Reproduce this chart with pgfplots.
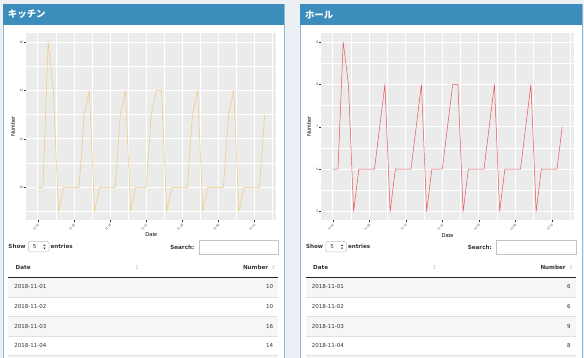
\documentclass[border=0pt]{standalone}
\usepackage{pgfplots}
\pgfplotsset{compat=1.18}
\usepackage{pgfplotstable}
\usepackage{fontspec}
\setmainfont{DejaVu Sans}
\newfontfamily\plotfont{Liberation Sans}
\newfontfamily\jpfont{Noto Sans CJK JP}
\definecolor{pagebg}{HTML}{ECF0F5}
\definecolor{boxblue}{HTML}{3C8DBC}
\definecolor{boxborder}{HTML}{8DB8D6}
\definecolor{ggpanel}{HTML}{EBEBEB}
\definecolor{ggtext}{HTML}{4D4D4D}
\definecolor{ggtick}{HTML}{333333}
\definecolor{kline}{HTML}{F4C877}
\definecolor{hline}{HTML}{E6525A}
\definecolor{txt}{HTML}{333333}
\definecolor{stripe}{HTML}{F6F6F6}
\definecolor{rowline}{HTML}{E0E0E0}
\definecolor{inputborder}{HTML}{C4C4C4}
\definecolor{sorticon}{HTML}{D2D2D2}

\pgfplotstableread{
day n
1 10
2 10
3 16
4 14
5 9
6 10
7 10
8 10
9 10
10 13
11 14
12 9
13 10
14 10
15 10
16 10
17 13
18 14
19 9
20 10
21 10
22 10
23 13
24 14
25 14
26 9
27 10
28 10
29 10
30 10
31 13
32 14
33 9
34 10
35 10
36 10
37 10
38 13
39 14
40 9
41 10
42 10
43 10
44 10
45 13
}\kitchen

\pgfplotstableread{
day n
1 6
2 6
3 9
4 8
5 5
6 6
7 6
8 6
9 6
10 7
11 8
12 5
13 6
14 6
15 6
16 6
17 7
18 8
19 5
20 6
21 6
22 6
23 7
24 8
25 8
26 5
27 6
28 6
29 6
30 6
31 7
32 8
33 5
34 6
35 6
36 6
37 6
38 7
39 8
40 5
41 6
42 6
43 6
44 6
45 7
}\hall

\pgfplotsset{gg/.style={
  scale only axis, anchor=north west,
  axis background/.style={fill=ggpanel},
  axis line style={draw=none},
  tick pos=left,
  grid=both,
  major grid style={white, line width=0.85pt},
  minor grid style={white, line width=0.4pt},
  tick align=outside,
  major tick length=2.3pt,
  minor tick length=0pt,
  tick style={ggtick, line width=0.35pt},
  xmin=-1.2, xmax=47.2,
  xtick={1,8,15,22,29,36,43},
  xticklabels={11-01,11-08,11-15,11-22,11-29,12-06,12-13},
  minor xtick={4.5,11.5,18.5,25.5,32.5,39.5,46.5},
  xticklabel style={font=\plotfont\fontsize{3}{3}\selectfont, text=ggtext, rotate=45, anchor=north east, inner sep=0.6pt},
  yticklabel style={font=\plotfont\fontsize{3.3}{3.3}\selectfont, text=ggtext, inner sep=0.7pt},
  every axis plot/.append style={no marks, line width=0.5pt, line join=round},
}}

\newcommand\tb{\bfseries\fontsize{5.6}{6.5}\selectfont}
\newcommand\tr{\fontsize{5.5}{6.5}\selectfont}
\newcommand\sorticon[2]{%
  \fill[sorticon] (#1-1.2,#2-0.5) -- (#1,#2-2.3) -- (#1+1.2,#2-0.5) -- cycle;
  \fill[sorticon] (#1-1.2,#2+0.5) -- (#1,#2+2.3) -- (#1+1.2,#2+0.5) -- cycle;}
\newcommand\tablepart[4]{%
  \node[anchor=west, inner sep=0, font=\tb] at (8.3,246.5) {Show};
  \draw[inputborder, rounded corners=1.5pt, fill=white, line width=0.5pt] (28.3,241.5) rectangle (49,252);
  \node[anchor=center, inner sep=0, font=\tr] at (34.5,246.8) {5};
  \fill[txt] (43.4,246.0) -- (44.5,244.4) -- (45.6,246.0) -- cycle;
  \fill[txt] (43.4,247.6) -- (44.5,249.2) -- (45.6,247.6) -- cycle;
  \node[anchor=west, inner sep=0, font=\tb] at (50.3,246.5) {entries};
  \node[anchor=east, inner sep=0, font=\tb] at (194.5,247) {Search:};
  \draw[inputborder, fill=white, line width=0.5pt] (199,240) rectangle (278.3,254);
  \node[anchor=west, inner sep=0, font=\tb] at (15.5,267.3) {Date};
  \sorticon{136.7}{267.3}
  \node[anchor=east, inner sep=0, font=\tb] at (268.3,267.3) {Number};
  \sorticon{273.5}{267.3}
  \fill[stripe] (8.3,278) rectangle (278.3,297);
  \fill[stripe] (8.3,316.3) rectangle (278.3,336);
  \fill[stripe] (8.3,355.5) rectangle (278.3,362);
  \draw[rowline, line width=0.5pt] (8.3,297) -- (278.3,297);
  \draw[rowline, line width=0.5pt] (8.3,316.3) -- (278.3,316.3);
  \draw[rowline, line width=0.5pt] (8.3,336) -- (278.3,336);
  \draw[rowline, line width=0.5pt] (8.3,355.5) -- (278.3,355.5);
  \draw[black!85, line width=1.1pt] (8.3,277.3) -- (278.3,277.3);
  \node[anchor=west, inner sep=0, font=\tr] at (14.2,286.7) {2018-11-01};
  \node[anchor=west, inner sep=0, font=\tr] at (14.2,306.2) {2018-11-02};
  \node[anchor=west, inner sep=0, font=\tr] at (14.2,326.3) {2018-11-03};
  \node[anchor=west, inner sep=0, font=\tr] at (14.2,345.9) {2018-11-04};
  \node[anchor=east, inner sep=0, font=\tr] at (273.3,286.7) {#1};
  \node[anchor=east, inner sep=0, font=\tr] at (273.3,306.2) {#2};
  \node[anchor=east, inner sep=0, font=\tr] at (273.3,326.3) {#3};
  \node[anchor=east, inner sep=0, font=\tr] at (273.3,345.9) {#4};
}

\begin{document}
\begin{tikzpicture}
\useasboundingbox (0,0) rectangle (584pt,-358pt);
\begin{scope}[x=1pt,y=-1pt]
  \clip (0,0) rectangle (584,358);
  \fill[pagebg] (0,0) rectangle (584,358);
  \foreach \bx/\ex in {3/284, 300/582} {
    \fill[white] (\bx,4) rectangle (\ex,362);
    \draw[boxborder, line width=0.7pt] (\bx,362) -- (\bx,4) -- (\ex,4) -- (\ex,362);
    \fill[boxblue] (\bx,4) rectangle (\ex,25);
  }
  \node[anchor=west, inner sep=0, text=white, font=\jpfont\bfseries\fontsize{9.4}{10}\selectfont] at (7.8,14.5) {キッチン};
  \node[anchor=west, inner sep=0, text=white, font=\jpfont\bfseries\fontsize{9.4}{10}\selectfont] at (304.8,14.5) {ホール};
\end{scope}

\begin{axis}[gg, at={(26.5pt,-33.5pt)}, width=249.5pt, height=186.5pt,
  ymin=8.65, ymax=16.35, ytick={10,12,14,16}, yticklabels={10,12,14,16}, minor ytick={9,11,13,15}]
  \addplot[kline] table[x=day,y=n]{\kitchen};
\end{axis}

\begin{axis}[gg, at={(321.3pt,-33.5pt)}, width=252.4pt, height=186.5pt,
  ymin=4.8, ymax=9.2, ytick={5,6,7,8,9}, yticklabels={5,6,7,8,9}, minor ytick={5.5,6.5,7.5,8.5}]
  \addplot[hline] table[x=day,y=n]{\hall};
\end{axis}

\begin{scope}[x=1pt,y=-1pt, every node/.style={text=txt}]
  \clip (0,0) rectangle (584,358);
  \node[font=\plotfont\fontsize{5.5}{6}\selectfont, text=black] at (151.3,235) {Date};
  \node[font=\plotfont\fontsize{5.5}{6}\selectfont, text=black, rotate=90] at (12.8,126.7) {Number};
  \node[font=\plotfont\fontsize{5.5}{6}\selectfont, text=black] at (447.5,235.3) {Date};
  \node[font=\plotfont\fontsize{5.5}{6}\selectfont, text=black, rotate=90] at (309,126.7) {Number};
  \tablepart{10}{10}{16}{14}
  \begin{scope}[xshift=297.5pt]
    \tablepart{6}{6}{9}{8}
  \end{scope}
\end{scope}
\end{tikzpicture}
\end{document}
